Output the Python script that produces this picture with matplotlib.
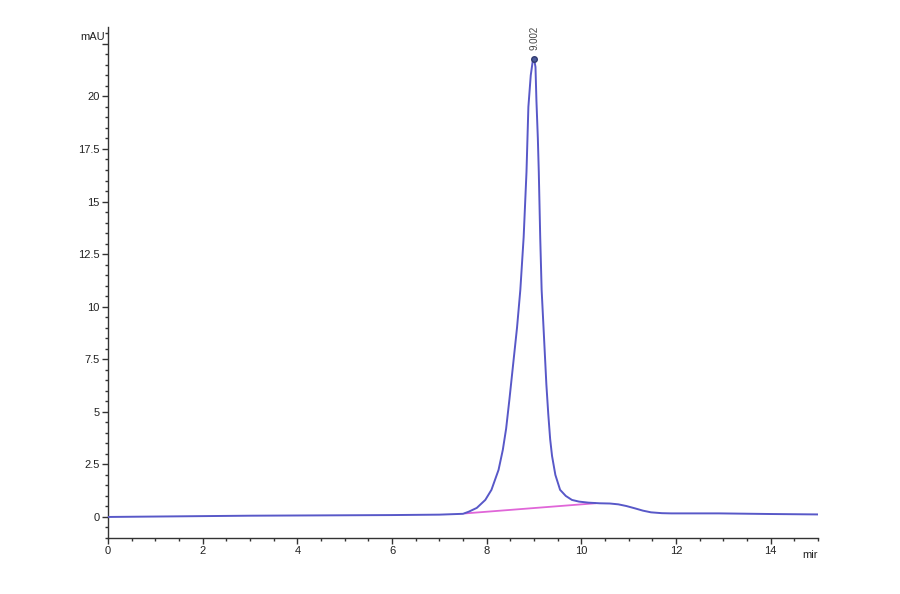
import matplotlib
matplotlib.use("Agg")
import matplotlib.pyplot as plt
from matplotlib.ticker import MultipleLocator

# chromatogram trace (time in min, signal in mAU)
time_min = [0, 1, 2, 3, 4, 5, 6, 7, 7.5, 7.62, 7.79, 7.97, 8.10, 8.25, 8.34, 8.41,
            8.48, 8.56, 8.64, 8.71, 8.78, 8.84, 8.88, 8.93, 8.97, 9.0, 9.03, 9.05,
            9.08, 9.10, 9.13, 9.16, 9.20, 9.26, 9.30, 9.34, 9.38, 9.45, 9.55, 9.67,
            9.80, 9.95, 10.15, 10.39, 10.6, 10.78, 10.95, 11.13, 11.3, 11.47, 11.7,
            11.9, 12.9, 14, 15]
signal_mau = [0.0, 0.02, 0.04, 0.06, 0.07, 0.08, 0.09, 0.11, 0.15, 0.25, 0.43, 0.81,
              1.29, 2.24, 3.19, 4.2, 5.6, 7.3, 9.0, 10.8, 13.3, 16.4, 19.5, 21.0,
              21.65, 21.8, 21.4, 19.8, 18.0, 16.4, 13.3, 10.8, 9.0, 6.3, 4.9, 3.7,
              2.9, 2.0, 1.29, 1.0, 0.81, 0.73, 0.68, 0.65, 0.64, 0.6, 0.52, 0.41,
              0.3, 0.22, 0.18, 0.17, 0.17, 0.14, 0.12]

# integration baseline under the main peak
base_t = [7.55, 10.29]
base_y = [0.17, 0.65]

peak_t = 9.0
peak_y = 21.8
peak_label = "9.002"

fig = plt.figure(figsize=(9, 5.94), dpi=100)
ax = fig.add_axes([0.12, 0.0943, 0.789, 0.8602])

ax.plot(time_min, signal_mau, color="#5858c8", lw=1.4, zorder=3)
ax.plot(base_t, base_y, color="#e066d8", lw=1.3, zorder=2)
ax.plot([peak_t], [peak_y], "o", ms=4, mfc="#4a5a9a", mec="#303a70", zorder=4)
ax.text(peak_t, peak_y + 0.4, peak_label, rotation=90, ha="center", va="bottom",
        fontsize=7, color="#444444", family="Liberation Sans")

ax.set_xlim(0, 15)
ax.set_ylim(-1.0, 23.3)
ax.xaxis.set_major_locator(MultipleLocator(2))
ax.xaxis.set_minor_locator(MultipleLocator(0.5))
ax.yaxis.set_minor_locator(MultipleLocator(0.5))

ticks_y = [0, 2.5, 5, 7.5, 10, 12.5, 15, 17.5, 20, 22.5]
ax.set_yticks(ticks_y)
ax.set_yticklabels(["0", "2.5", "5", "7.5", "10", "12.5", "15", "17.5", "20", ""])

for side in ("top", "right"):
    ax.spines[side].set_visible(False)
for side in ("left", "bottom"):
    ax.spines[side].set_color("#333333")
    ax.spines[side].set_linewidth(1.0)

ax.tick_params(which="major", length=4, width=1, color="#333333", labelsize=8,
               labelcolor="#222222", pad=2)
ax.tick_params(which="minor", length=2, width=1, color="#333333")
for lab in ax.get_xticklabels() + ax.get_yticklabels():
    lab.set_family("Liberation Sans")

fig.text(0.089, 0.938, "mAU", fontsize=8, ha="left", va="center",
         family="Liberation Sans", color="#222222")
fig.text(0.891, 0.066, "mir", fontsize=8, ha="left", va="center",
         family="Liberation Sans", color="#222222")

fig.savefig("out.png", dpi=100, facecolor="white")
